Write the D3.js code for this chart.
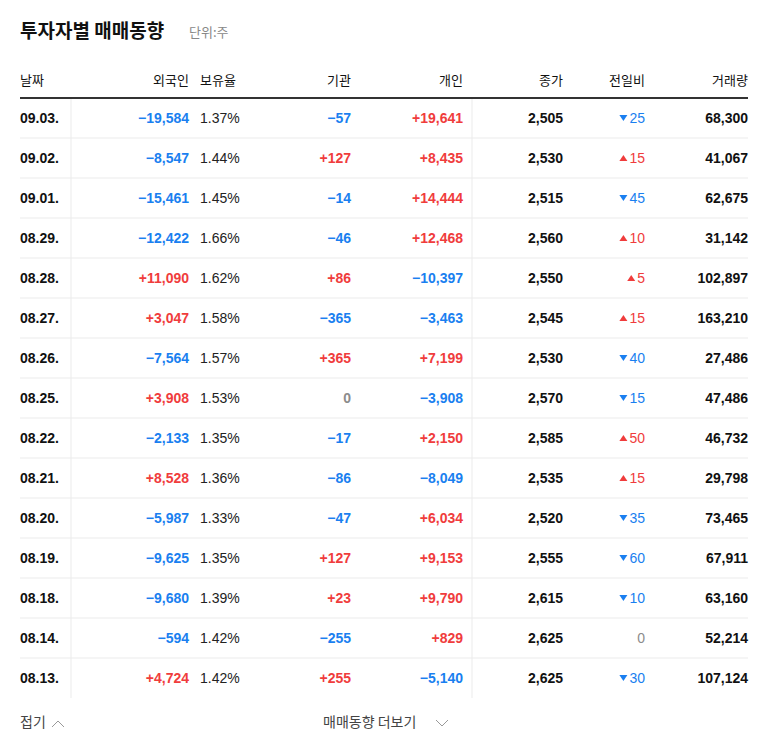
<!DOCTYPE html>
<html><head><meta charset="utf-8">
<script src="https://cdn.jsdelivr.net/npm/d3@7"></script>
<style>body{margin:0;background:#fff}</style>
</head><body>
<svg width="768" height="749"></svg>
<script>
var dates = ["09.03.","09.02.","09.01.","08.29.","08.28.","08.27.","08.26.","08.25.","08.22.","08.21.","08.20.","08.19.","08.18.","08.14.","08.13."];
var foreign = [-19584,-8547,-15461,-12422,11090,3047,-7564,3908,-2133,8528,-5987,-9625,-9680,-594,4724];
var holding = [1.37,1.44,1.45,1.66,1.62,1.58,1.57,1.53,1.35,1.36,1.33,1.35,1.39,1.42,1.42];
var inst = [-57,127,-14,-46,86,-365,365,0,-17,-86,-47,127,23,-255,255];
var indiv = [19641,8435,14444,12468,-10397,-3463,7199,-3908,2150,-8049,6034,9153,9790,829,-5140];
var close = [2505,2530,2515,2560,2550,2545,2530,2570,2585,2535,2520,2555,2615,2625,2625];
var change = [-25,15,-45,10,5,15,-40,-15,50,15,-35,-60,-10,0,-30];
var volume = [68300,41067,62675,31142,102897,163210,27486,47486,46732,29798,73465,67911,63160,52214,107124];
var headers = ["날짜","외국인","보유율","기관","개인","종가","전일비","거래량"];

var RED = "#f03c3c", BLUE = "#1a7ff0", GRAY = "#8c8c8c", DARK = "#111";
var KFONT = "'Noto Sans CJK KR', sans-serif", NFONT = "'Liberation Sans', Arial, sans-serif";
var fmt = d3.format(",");
var signed = function(v){ return v > 0 ? "+" + fmt(v) : fmt(v); };
var col = function(v){ return v > 0 ? RED : v < 0 ? BLUE : GRAY; };

var svg = d3.select("svg");
var left = 20, right = 748;

svg.append("text").attr("x", left).attr("y", 38)
  .style("font-family", KFONT).style("font-size", "19px").style("font-weight", "bold").attr("fill", DARK)
  .text("투자자별 매매동향");
svg.append("text").attr("x", 189).attr("y", 37)
  .style("font-family", KFONT).style("font-size", "13px").attr("fill", "#888")
  .text("단위:주");

// column anchor x and alignment
var cols = [
  {x: 20, a: "start"}, {x: 189, a: "end"}, {x: 200, a: "start"}, {x: 351, a: "end"},
  {x: 463, a: "end"}, {x: 563, a: "end"}, {x: 645, a: "end"}, {x: 748, a: "end"}
];

svg.selectAll(".hdr").data(headers).enter().append("text")
  .attr("class", "hdr")
  .attr("x", function(d, i){ return cols[i].x; }).attr("y", 85)
  .attr("text-anchor", function(d, i){ return cols[i].a; })
  .style("font-family", KFONT).style("font-size", "13px").attr("fill", DARK)
  .text(function(d){ return d; });

var y = d3.scaleBand().domain(d3.range(dates.length)).range([98, 698]);

svg.append("rect").attr("x", left).attr("y", 97).attr("width", right - left).attr("height", 2).attr("fill", "#333");

var rows = svg.selectAll(".row").data(dates).enter().append("g")
  .attr("class", "row")
  .attr("transform", function(d, i){ return "translate(0," + y(i) + ")"; });

rows.filter(function(d, i){ return i < dates.length - 1; }).append("line")
  .attr("x1", left).attr("x2", right).attr("y1", y.bandwidth()).attr("y2", y.bandwidth())
  .attr("stroke", "#ebebeb");

[71, 472].forEach(function(x){
  svg.append("line").attr("x1", x).attr("x2", x).attr("y1", 99).attr("y2", 698).attr("stroke", "#ebebeb");
});

var ty = y.bandwidth() / 2 + 5;
function cell(i, text, color, weight){
  rows.append("text")
    .attr("x", cols[i].x).attr("y", ty).attr("text-anchor", cols[i].a)
    .style("font-family", NFONT).style("font-size", "14px").style("font-weight", weight || "bold")
    .attr("fill", color)
    .text(text);
}
cell(0, function(d){ return d; }, function(){ return DARK; });
cell(1, function(d, i){ return signed(foreign[i]); }, function(d, i){ return col(foreign[i]); });
cell(2, function(d, i){ return holding[i].toFixed(2) + "%"; }, function(){ return "#222"; }, "normal");
cell(3, function(d, i){ return inst[i] === 0 ? "0" : signed(inst[i]); }, function(d, i){ return col(inst[i]); });
cell(4, function(d, i){ return signed(indiv[i]); }, function(d, i){ return col(indiv[i]); });
cell(5, function(d, i){ return fmt(close[i]); }, function(){ return DARK; });
cell(6, function(d, i){ return Math.abs(change[i]); }, function(d, i){ return col(change[i]); }, "normal");
cell(7, function(d, i){ return fmt(volume[i]); }, function(){ return DARK; });

// change arrows
rows.each(function(d, i){
  if (change[i] === 0) return;
  var w = String(Math.abs(change[i])).length * 7.8;
  var cx = cols[6].x - w - 6, cy = ty - 5;
  var pts = change[i] > 0
    ? [[cx - 4, cy + 3], [cx + 4, cy + 3], [cx, cy - 3]]
    : [[cx - 4, cy - 3], [cx + 4, cy - 3], [cx, cy + 3]];
  d3.select(this).append("path").attr("d", d3.line()(pts) + "Z").attr("fill", col(change[i]));
});

// footer
svg.append("text").attr("x", left).attr("y", 727)
  .style("font-family", KFONT).style("font-size", "14px").attr("fill", "#444").text("접기");
svg.append("path").attr("d", "M52,727 L58,721 L64,727").attr("fill", "none").attr("stroke", "#999");
svg.append("text").attr("x", 323).attr("y", 727)
  .style("font-family", KFONT).style("font-size", "14px").attr("fill", "#444").text("매매동향 더보기");
svg.append("path").attr("d", "M436,720 L442,726 L448,720").attr("fill", "none").attr("stroke", "#999");
</script>
</body></html>
